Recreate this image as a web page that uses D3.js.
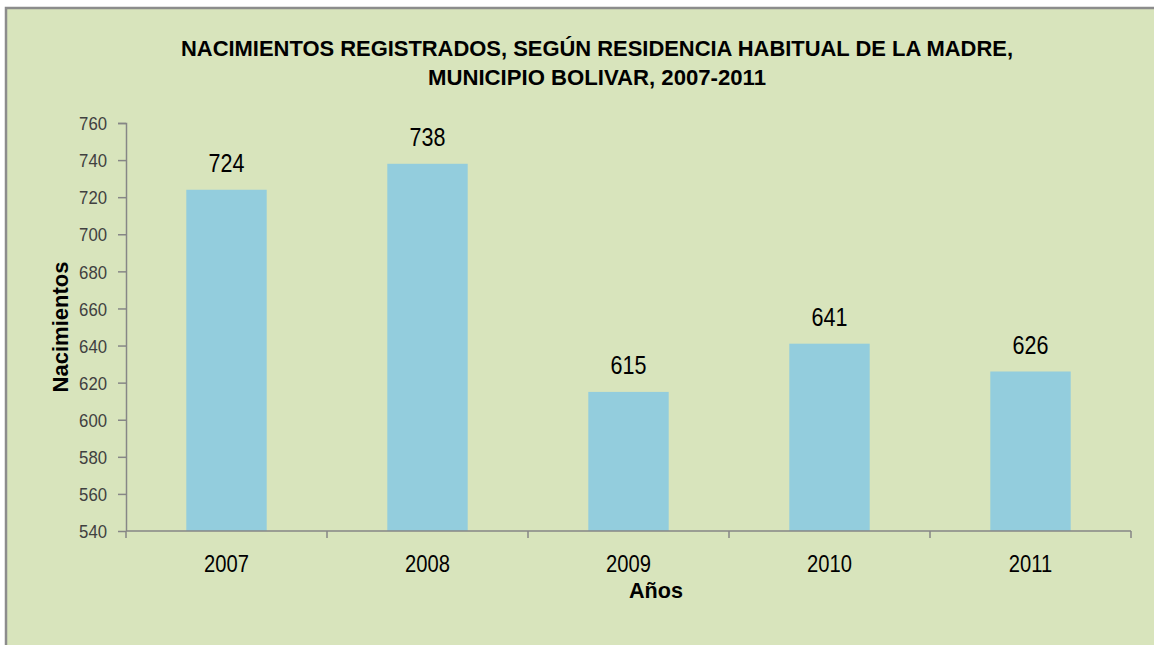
<!DOCTYPE html>
<html>
<head>
<meta charset="utf-8">
<script src="https://cdn.jsdelivr.net/npm/d3@7"></script>
<style>
  body { margin: 0; background: #ffffff; }
  svg { display: block; }
</style>
</head>
<body>
<div id="chart"></div>
<script>
// chart data
const years = ["2007", "2008", "2009", "2010", "2011"];
const births = [724, 738, 615, 641, 626];
const yTicks = [540, 560, 580, 600, 620, 640, 660, 680, 700, 720, 740, 760];
const titleLines = [
  "NACIMIENTOS REGISTRADOS, SEGÚN RESIDENCIA HABITUAL DE LA MADRE,",
  "MUNICIPIO BOLIVAR, 2007-2011"
];

const width = 1154, height = 645;
const margin = { top: 123, right: 23, bottom: 114, left: 126 };
const plotW = width - margin.left - margin.right;
const plotH = height - margin.top - margin.bottom;

const bg = "#d8e4bc", barColor = "#93cddd", axisColor = "#868686";
const font = "'Liberation Sans', Arial, sans-serif";

// squeeze text horizontally (the original uses a narrow face)
function condense(sel, k) {
  sel.each(function () {
    const len = this.getComputedTextLength();
    d3.select(this)
      .attr("textLength", len * k)
      .attr("lengthAdjust", "spacingAndGlyphs");
  });
}

const svg = d3.select("#chart").append("svg")
  .attr("width", width)
  .attr("height", height);

// chart area background and frame
svg.append("rect")
  .attr("x", 6).attr("y", 8)
  .attr("width", width).attr("height", height)
  .attr("fill", bg)
  .attr("stroke", "#8c8c8c")
  .attr("stroke-width", 2.5);

// title
svg.append("g")
  .selectAll("text")
  .data(titleLines)
  .join("text")
  .attr("x", 597)
  .attr("y", (d, i) => 56 + i * 29)
  .attr("text-anchor", "middle")
  .attr("font-family", font)
  .attr("font-weight", "bold")
  .attr("font-size", 22)
  .attr("fill", "#000")
  .attr("textLength", (d, i) => i === 0 ? 832 : 338)
  .attr("lengthAdjust", "spacingAndGlyphs")
  .text(d => d);

const g = svg.append("g")
  .attr("transform", `translate(${margin.left},${margin.top})`);

const xb = d3.scaleBand().domain(years).range([0, plotW]);
const y = d3.scaleLinear().domain([540, 760]).range([plotH, 0]);

const rows = years.map((d, i) => ({ year: d, value: births[i] }));

// bars
g.selectAll("rect.bar")
  .data(rows)
  .join("rect")
  .attr("class", "bar")
  .attr("x", d => xb(d.year) + xb.bandwidth() * 0.3)
  .attr("width", xb.bandwidth() * 0.4)
  .attr("y", d => y(d.value))
  .attr("height", d => plotH - y(d.value))
  .attr("fill", barColor);

// value labels
g.selectAll("text.val")
  .data(rows)
  .join("text")
  .attr("class", "val")
  .attr("x", d => xb(d.year) + xb.bandwidth() / 2)
  .attr("y", d => y(d.value) - 18)
  .attr("text-anchor", "middle")
  .attr("font-family", font)
  .attr("font-size", 25)
  .attr("fill", "#000")
  .text(d => d.value)
  .call(condense, 0.86);

// y axis
const yAxis = g.append("g")
  .call(d3.axisLeft(y).tickValues(yTicks).tickSize(8).tickPadding(11));
yAxis.selectAll("path, line").attr("stroke", axisColor).attr("stroke-width", 1.5);
yAxis.select(".domain").attr("d", `M-8,0.5H0.5V${plotH}`);
yAxis.selectAll("text")
  .attr("font-family", font)
  .attr("font-size", 19)
  .attr("dy", "0.35em")
  .attr("fill", "#404040")
  .call(condense, 0.88);

// x axis (ticks at category boundaries)
const xAxis = g.append("g")
  .attr("transform", `translate(0,${plotH})`);
xAxis.append("line")
  .attr("x1", 0).attr("x2", plotW)
  .attr("stroke", axisColor).attr("stroke-width", 1.5);
xAxis.selectAll("line.tick")
  .data(years.concat(["end"]))
  .join("line")
  .attr("class", "tick")
  .attr("x1", (d, i) => i * xb.step())
  .attr("x2", (d, i) => i * xb.step())
  .attr("y1", 0).attr("y2", 7)
  .attr("stroke", axisColor).attr("stroke-width", 1.5);
xAxis.selectAll("text")
  .data(years)
  .join("text")
  .attr("x", d => xb(d) + xb.bandwidth() / 2)
  .attr("y", 41)
  .attr("text-anchor", "middle")
  .attr("font-family", font)
  .attr("font-size", 24)
  .attr("fill", "#000")
  .text(d => d)
  .call(condense, 0.84);

// axis titles
svg.append("text")
  .attr("x", 656)
  .attr("y", 598)
  .attr("text-anchor", "middle")
  .attr("font-family", font)
  .attr("font-weight", "bold")
  .attr("font-size", 22)
  .attr("fill", "#000")
  .text("Años")
  .call(condense, 0.98);

svg.append("text")
  .attr("transform", "translate(68,327) rotate(-90)")
  .attr("text-anchor", "middle")
  .attr("font-family", font)
  .attr("font-weight", "bold")
  .attr("font-size", 22)
  .attr("fill", "#000")
  .text("Nacimientos")
  .call(condense, 1.0);
</script>
</body>
</html>
